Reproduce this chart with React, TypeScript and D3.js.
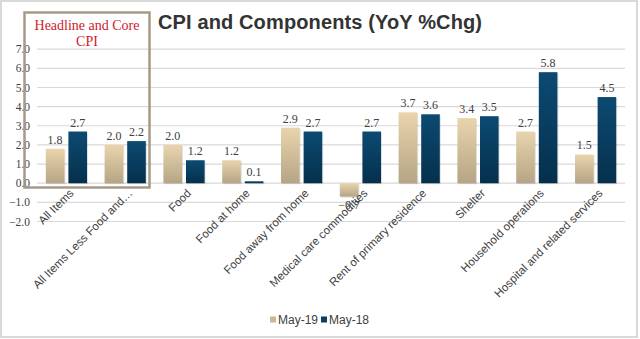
import React from "react";
import * as d3 from "d3";

const categories = [
  "All Items",
  "All Items Less Food and…",
  "Food",
  "Food at home",
  "Food away from home",
  "Medical care commodities",
  "Rent of primary residence",
  "Shelter",
  "Household operations",
  "Hospital and related services",
];
const may19 = [1.8, 2.0, 2.0, 1.2, 2.9, -0.7, 3.7, 3.4, 2.7, 1.5];
const may18 = [2.7, 2.2, 1.2, 0.1, 2.7, 2.7, 3.6, 3.5, 5.8, 4.5];
const yTicks = [-2, -1, 0, 1, 2, 3, 4, 5, 6, 7];
const seriesNames = ["May-19", "May-18"];

const W = 640;
const H = 339;
const plotLeft = 37;
const plotRight = 625;
const yTop = 49.2;
const yZero = 183.2;

export default function App() {
  const y = d3.scaleLinear().domain([0, 7]).range([yZero, yTop]);
  const x0 = d3.scaleBand().domain(categories).range([plotLeft, plotRight]).paddingInner(0).paddingOuter(0);
  const bw = 18.6;
  const gap = 4;
  const serif = "'Liberation Serif', 'Times New Roman', serif";
  const sans = "'Liberation Sans', Arial, sans-serif";

  return (
    <svg width={W} height={H} style={{ position: "absolute", left: 0, top: 0, background: "#fff" }}>
      <defs>
        <linearGradient id="gTan" x1="0" y1="0" x2="0" y2="1">
          <stop offset="0" stopColor="#e9d4ac" />
          <stop offset="1" stopColor="#b5a585" />
        </linearGradient>
        <linearGradient id="gBlue" x1="0" y1="0" x2="0" y2="1">
          <stop offset="0" stopColor="#0c4a72" />
          <stop offset="1" stopColor="#05304c" />
        </linearGradient>
      </defs>
      <rect x={1} y={1} width={W - 4} height={H - 3} fill="#fff" stroke="#d9d9d9" strokeWidth={2} />
      {/* gridlines */}
      {yTicks.map((t) => (
        <line key={t} x1={plotLeft} x2={plotRight} y1={y(t)} y2={y(t)} stroke="#d9d9d9" strokeWidth={1.2} />
      ))}
      {yTicks.map((t) => (
        <text key={"t" + t} x={30} y={y(t)} dy="0.35em" textAnchor="end" fontFamily={serif} fontSize={11.5} fill="#404040">
          {d3.format(".1f")(t)}
        </text>
      ))}
      {/* bars */}
      {categories.map((c, i) => {
        const cx = (x0(c) as number) + x0.bandwidth() / 2;
        const vals = [may19[i], may18[i]];
        return (
          <g key={c}>
            {vals.map((v, k) => {
              const bx = k === 0 ? cx - gap / 2 - bw : cx + gap / 2;
              const top = Math.min(y(v), y(0));
              const h = Math.abs(y(v) - y(0));
              const ly = v >= 0 ? y(v) - 5 : y(v) + 12;
              return (
                <g key={k}>
                  <rect x={bx + 1} y={top + 1} width={bw} height={h} fill="#000" opacity={0.12} />
                  <rect x={bx} y={top} width={bw} height={h} fill={k === 0 ? "url(#gTan)" : "url(#gBlue)"} />
                  <text x={bx + bw / 2} y={ly} textAnchor="middle" fontFamily={serif} fontSize={12} fill="#404040">
                    {d3.format(".1f")(v)}
                  </text>
                </g>
              );
            })}
            <text
              transform={`translate(${cx + 5},${191}) rotate(-45)`}
              textAnchor="end"
              dy="0.35em"
              fontFamily={sans}
              fontSize={11.5}
              fill="#404040"
            >
              {c}
            </text>
          </g>
        );
      })}
      {/* headline box */}
      <rect x={24.5} y={12.5} width={125} height={175} fill="none" stroke="#a69a86" strokeWidth={2.5} />
      <text x={87} y={29.5} textAnchor="middle" fontFamily={serif} fontSize={14} fill="#d0202a">
        Headline and Core
      </text>
      <text x={87} y={46} textAnchor="middle" fontFamily={serif} fontSize={14} fill="#d0202a">
        CPI
      </text>
      {/* title */}
      <text x={320} y={29} textAnchor="middle" fontFamily={sans} fontWeight="bold" fontSize={20} fill="#333" textLength={324} lengthAdjust="spacing">
        CPI and Components (YoY %Chg)
      </text>
      {/* legend */}
      {seriesNames.map((s, k) => (
        <g key={s} transform={`translate(${k === 0 ? 270 : 321},320)`}>
          <rect x={0} y={-3.5} width={6} height={6} fill={k === 0 ? "#cdb894" : "#0a3f62"} />
          <text x={8} y={0} dy="0.35em" fontFamily={sans} fontSize={12} fill="#404040">
            {s}
          </text>
        </g>
      ))}
    </svg>
  );
}
